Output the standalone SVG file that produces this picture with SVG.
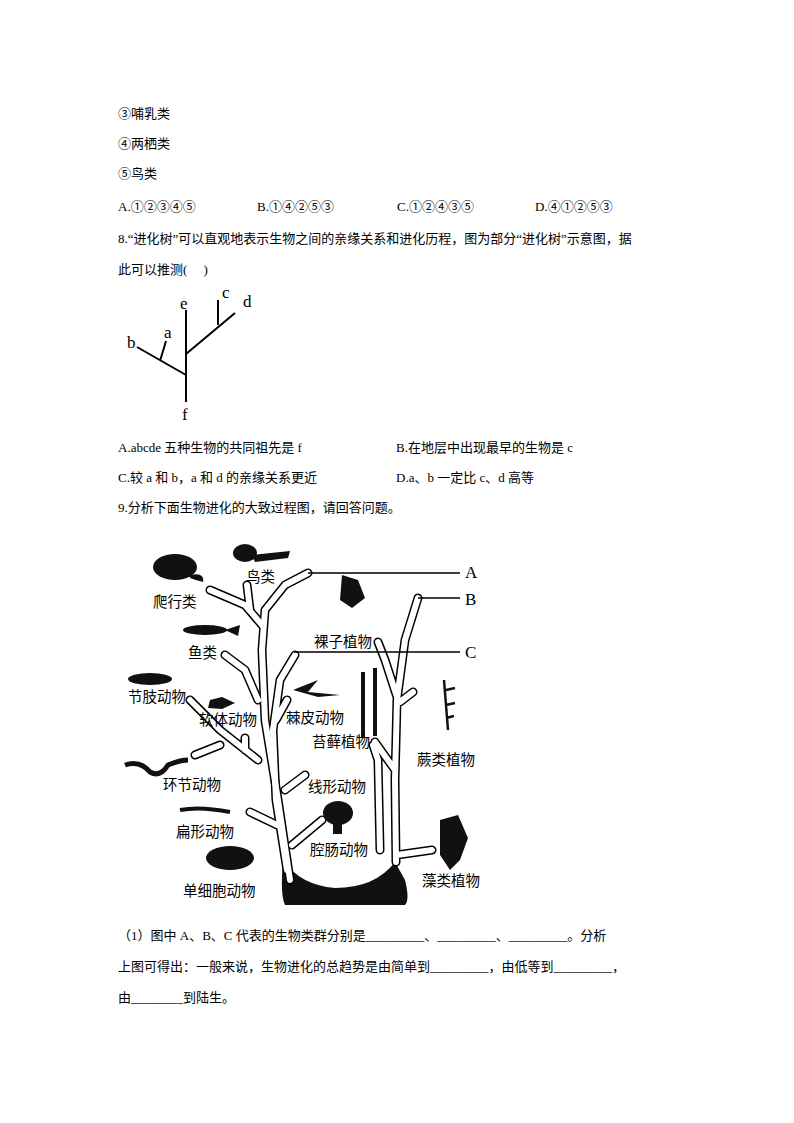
<svg xmlns="http://www.w3.org/2000/svg" width="794" height="1123" viewBox="0 0 794 1123">
<style>
text{font-family:"Liberation Serif","Noto Sans CJK SC",serif;fill:#000}
.t{font-size:13px}
.l{font-size:14.5px}
.big{font-size:17px;font-family:"Liberation Serif",serif}
.ln{stroke:#000;stroke-width:2;fill:none}
.br{fill:none;stroke-linecap:round;stroke-linejoin:round}
.o{stroke:#000;stroke-width:9}
.i{stroke:#fff;stroke-width:6}
.blob{fill:#111}
</style>
<rect width="794" height="1123" fill="#fff"/>
<g id="q7">
<text class="t" x="118" y="118">③哺乳类</text>
<text class="t" x="118" y="148">④两栖类</text>
<text class="t" x="118" y="178">⑤鸟类</text>
<text class="t" x="118" y="211">A.①②③④⑤</text>
<text class="t" x="257" y="211">B.①④②⑤③</text>
<text class="t" x="397" y="211">C.①②④③⑤</text>
<text class="t" x="535" y="211">D.④①②⑤③</text>
<text class="t" x="118" y="243">8.“进化树”可以直观地表示生物之间的亲缘关系和进化历程，图为部分“进化树”示意图，据</text>
<text class="t" x="118" y="274">此可以推测(　 )</text>
</g>
<g id="tree8">
<path class="ln" d="M186 310V402M137 347L186 375M160 361L166 341M186 354L235 313M218 325V300"/>
<text class="big" x="180" y="309">e</text>
<text class="big" x="222" y="298">c</text>
<text class="big" x="243" y="307">d</text>
<text class="big" x="164" y="338">a</text>
<text class="big" x="127" y="348">b</text>
<text class="big" x="182" y="420">f</text>
</g>
<g id="q8opts">
<text class="t" x="118" y="452">A.abcde 五种生物的共同祖先是 f</text>
<text class="t" x="396" y="452">B.在地层中出现最早的生物是 c</text>
<text class="t" x="118" y="482">C.较 a 和 b，a 和 d 的亲缘关系更近</text>
<text class="t" x="396" y="482">D.a、b 一定比 c、d 高等</text>
<text class="t" x="118" y="512">9.分析下面生物进化的大致过程图，请回答问题。</text>
</g>
<g id="evotree">
<path class="blob" d="M283 860Q300 885 335 888Q375 888 395 862L405 880Q410 900 405 905H285Q280 895 283 860Z"/>
<g class="br o">
<path d="M290 880L278 800L265 720L262 650L265 610L285 585L308 573"/>
<path d="M262 625L245 605L210 590M250 610L247 585M258 700L245 670L225 655M258 760L220 730L190 700M245 750L245 738M220 745L195 755M277 825L250 812"/>
<path d="M287 870L276 800L273 730L280 680L295 655M276 720L287 700M285 790L305 775M292 845L322 820"/>
<path d="M396 862L395 780L397 700L405 640L418 598M398 700L385 660L378 642M395 770L375 742M400 702L413 692M397 855L432 850M380 850L378 760L373 745"/>
</g>
<g class="br i">
<path d="M290 880L278 800L265 720L262 650L265 610L285 585L308 573"/>
<path d="M262 625L245 605L210 590M250 610L247 585M258 700L245 670L225 655M258 760L220 730L190 700M245 750L245 738M220 745L195 755M277 825L250 812"/>
<path d="M287 870L276 800L273 730L280 680L295 655M276 720L287 700M285 790L305 775M292 845L322 820"/>
<path d="M396 862L395 780L397 700L405 640L418 598M398 700L385 660L378 642M395 770L375 742M400 702L413 692M397 855L432 850M380 850L378 760L373 745"/>
</g>
</g>
<g id="animals" class="blob">
<ellipse cx="175" cy="567" rx="22" ry="13"/>
<path d="M190 575Q205 572 203 582Q195 580 190 578Z"/>
<ellipse cx="245" cy="553" rx="12" ry="9"/><path d="M252 555L290 551L288 558L255 562Z"/>
<ellipse cx="205" cy="630" rx="22" ry="5"/><path d="M225 630L240 625L238 636Z"/>
<ellipse cx="150" cy="679" rx="22" ry="6"/>
<path d="M210 700L222 697L235 703L222 709L208 708Z"/>
<path d="M293 690L318 680L308 692L340 695L318 697Z"/>
<path d="M363 672V738M375 668V736" style="stroke:#111;stroke-width:4;fill:none"/>
<path d="M444 680L448 730M446 690L455 688M446 705L455 703M446 718L454 716" style="stroke:#111;stroke-width:2.5;fill:none"/>
<path d="M342 575L358 580L365 598L352 608L340 600Z"/>
<path d="M125 765Q140 760 150 772Q160 778 168 765Q180 760 188 760" style="stroke:#111;stroke-width:5;fill:none"/>
<path d="M180 810Q200 806 230 812" style="stroke:#111;stroke-width:4;fill:none"/>
<ellipse cx="338" cy="813" rx="15" ry="12"/><rect x="333" y="820" width="9" height="14"/>
<ellipse cx="230" cy="858" rx="24" ry="12"/>
<path d="M440 820L458 815L468 838L460 860L450 870L440 855Z"/>
</g>
<g id="labels">
<text class="l" x="246" y="582">鸟类</text>
<text class="l" x="153" y="607">爬行类</text>
<text class="l" x="188" y="658">鱼类</text>
<text class="l" x="128" y="702">节肢动物</text>
<text class="l" x="199" y="725">软体动物</text>
<text class="l" x="286" y="723">棘皮动物</text>
<text class="l" x="314" y="647">裸子植物</text>
<text class="l" x="312" y="747">苔藓植物</text>
<text class="l" x="417" y="765">蕨类植物</text>
<text class="l" x="163" y="790">环节动物</text>
<text class="l" x="308" y="792">线形动物</text>
<text class="l" x="176" y="837">扁形动物</text>
<text class="l" x="310" y="855">腔肠动物</text>
<text class="l" x="422" y="886">藻类植物</text>
<text class="l" x="183" y="896">单细胞动物</text>
</g>
<g id="connectors">
<path class="ln" style="stroke-width:1.5" d="M308 573H460M418 598H460M294 652H460"/>
<text class="big" x="465" y="578">A</text>
<text class="big" x="465" y="605">B</text>
<text class="big" x="465" y="658">C</text>
</g>
<g id="q9">
<text class="t" x="118" y="940">（1）图中 A、B、C 代表的生物类群分别是_________、_________、_________。分析</text>
<text class="t" x="118" y="971">上图可得出：一般来说，生物进化的总趋势是由简单到_________，由低等到_________，</text>
<text class="t" x="118" y="1002">由________到陆生。</text>
</g>
</svg>
